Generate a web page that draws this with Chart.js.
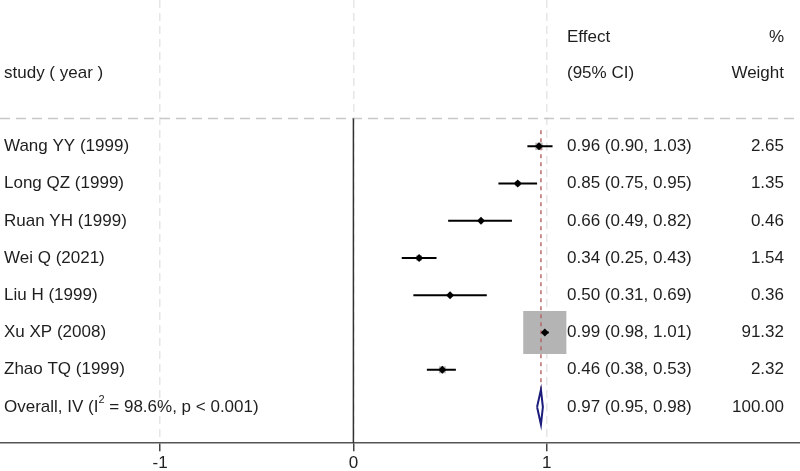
<!DOCTYPE html>
<html>
<head>
<meta charset="utf-8">
<script src="https://cdn.jsdelivr.net/npm/chart.js@4.4.1/dist/chart.umd.min.js"></script>
<style>
  html, body { margin: 0; padding: 0; background: #fff; }
  #wrap { width: 800px; height: 471px; }
</style>
</head>
<body>
<div id="wrap"><canvas id="forest"></canvas></div>
<script>
    // study data
    const studies = [
      "Wang YY (1999)",
      "Long QZ (1999)",
      "Ruan YH (1999)",
      "Wei Q (2021)",
      "Liu H (1999)",
      "Xu XP (2008)",
      "Zhao TQ (1999)",
    ];
    const effect = [0.96, 0.85, 0.66, 0.34, 0.50, 0.99, 0.46];
    const lower  = [0.90, 0.75, 0.49, 0.25, 0.31, 0.98, 0.38];
    const upper  = [1.03, 0.95, 0.82, 0.43, 0.69, 1.01, 0.53];
    const weight = [2.65, 1.35, 0.46, 1.54, 0.36, 91.32, 2.32];

    // pooled estimate: effect, lower, upper, weight
    const overall = [0.97, 0.95, 0.98, 100.00];
    const overallStats = { i2: "98.6%", p: "p < 0.001" };

    const xTicks = [-1, 0, 1];

    const FONT = '"Liberation Sans", Arial, sans-serif';
    const rows = studies.map((s, i) => i + 1);
    const overallRow = studies.length + 1;
    const headerRows = [-1.94, -0.96];
    const sepRow = 0.25;
    const xMin = -1.828, xMax = 2.31;

    const datasets = [];

    // black markers at the estimates
    datasets.push({
      type: 'scatter',
      data: effect.map((e, i) => ({ x: e, y: rows[i] })),
      pointStyle: 'rectRot',
      pointRadius: 4,
      backgroundColor: '#000',
      borderWidth: 0,
      order: 1
    });

    // confidence intervals
    studies.forEach((s, i) => {
      datasets.push({
        type: 'line',
        data: [{ x: lower[i], y: rows[i] }, { x: upper[i], y: rows[i] }],
        borderColor: '#000',
        borderWidth: 2,
        pointRadius: 0,
        order: 2
      });
    });

    // overall diamond
    const dh = 0.47;
    datasets.push({
      type: 'line',
      data: [
        { x: overall[1], y: overallRow },
        { x: overall[0], y: overallRow - dh },
        { x: overall[2], y: overallRow },
        { x: overall[0], y: overallRow + dh },
        { x: overall[1], y: overallRow }
      ],
      borderColor: '#1c1c7c',
      borderWidth: 2,
      backgroundColor: '#ffffff',
      fill: 'shape',
      pointRadius: 0,
      order: 3
    });

    // dashed line through the pooled effect
    datasets.push({
      type: 'line',
      data: [{ x: overall[0], y: 0.57 }, { x: overall[0], y: overallRow - dh }],
      borderColor: '#b46a6a',
      borderWidth: 1.5,
      borderDash: [4, 4],
      pointRadius: 0,
      order: 4
    });

    // weight boxes (area ~ weight)
    const maxW = Math.max(...weight);
    datasets.push({
      type: 'scatter',
      data: effect.map((e, i) => ({ x: e, y: rows[i] })),
      pointStyle: 'rect',
      pointRadius: weight.map(w => 30.5 * Math.sqrt(w / maxW)),
      backgroundColor: '#b4b4b4',
      borderWidth: 0,
      order: 5
    });

    // null line
    datasets.push({
      type: 'line',
      data: [{ x: 0, y: sepRow }, { x: 0, y: 9.5 }],
      borderColor: '#333',
      borderWidth: 1.5,
      pointRadius: 0,
      order: 6
    });

    // header separator
    datasets.push({
      type: 'line',
      data: [{ x: xMin, y: sepRow }, { x: xMax, y: sepRow }],
      borderColor: '#c8c8c8',
      borderWidth: 1.5,
      borderDash: [10, 6],
      pointRadius: 0,
      order: 7
    });

    const forestText = {
      id: 'forestText',
      afterDatasetsDraw(chart) {
        const { ctx, chartArea, scales: { y } } = chart;
        const leftX = chartArea.left + 4;
        const ciX = 567;
        const wX = 784;
        ctx.save();
        ctx.font = '17px ' + FONT;
        ctx.fillStyle = '#1e1e1e';
        ctx.textBaseline = 'middle';

        ctx.textAlign = 'left';
        ctx.fillText('study ( year )', leftX, y.getPixelForValue(headerRows[1]));
        ctx.fillText('Effect', ciX, y.getPixelForValue(headerRows[0]));
        ctx.fillText('(95% CI)', ciX, y.getPixelForValue(headerRows[1]));
        ctx.textAlign = 'right';
        ctx.fillText('%', wX, y.getPixelForValue(headerRows[0]));
        ctx.fillText('Weight', wX, y.getPixelForValue(headerRows[1]));

        studies.forEach((s, i) => {
          const py = y.getPixelForValue(rows[i]);
          ctx.textAlign = 'left';
          ctx.fillText(s, leftX, py);
          ctx.fillText(effect[i].toFixed(2) + ' (' + lower[i].toFixed(2) + ', ' + upper[i].toFixed(2) + ')', ciX, py);
          ctx.textAlign = 'right';
          ctx.fillText(weight[i].toFixed(2), wX, py);
        });

        // overall row with superscript
        const oy = y.getPixelForValue(overallRow);
        ctx.textAlign = 'left';
        let px = leftX;
        const part1 = 'Overall, IV (I';
        ctx.fillText(part1, px, oy);
        px += ctx.measureText(part1).width;
        ctx.font = '11px ' + FONT;
        ctx.fillText('2', px, oy - 7);
        px += ctx.measureText('2').width;
        ctx.font = '17px ' + FONT;
        ctx.fillText(' = ' + overallStats.i2 + ', ' + overallStats.p + ')', px, oy);
        ctx.fillText(overall[0].toFixed(2) + ' (' + overall[1].toFixed(2) + ', ' + overall[2].toFixed(2) + ')', ciX, oy);
        ctx.textAlign = 'right';
        ctx.fillText(overall[3].toFixed(2), wX, oy);
        ctx.restore();
      }
    };

    let forest = new Chart('forest', {
      type: 'scatter',
      data: { datasets: datasets },
      options: {
        responsive: true,
        maintainAspectRatio: false,
        animation: false,
        events: [],
        layout: { padding: { top: 0, left: 0, right: 0, bottom: -4 }, autoPadding: false },
        plugins: {
          legend: { display: false },
          tooltip: { enabled: false }
        },
        scales: {
          x: {
            type: 'linear',
            min: xMin,
            max: xMax,
            afterBuildTicks: (axis) => {
              axis.ticks = xTicks.map(v => ({ value: v }));
            },
            grid: {
              color: '#e6e6e6',
              lineWidth: 1.5,
              tickColor: '#444',
              tickLength: 8,
              tickWidth: 1.5
            },
            border: {
              color: '#555',
              width: 1.5,
              dash: [8, 5]
            },
            ticks: {
              color: '#222',
              padding: 3,
              maxRotation: 0,
              callback: (v) => String(v),
              font: { family: FONT, size: 17, lineHeight: 1.05 }
            }
          },
          y: {
            type: 'linear',
            display: false,
            reverse: true,
            min: -2.93,
            max: 8.97
          }
        }
      },
      plugins: [forestText]
    });
</script>
</body>
</html>
